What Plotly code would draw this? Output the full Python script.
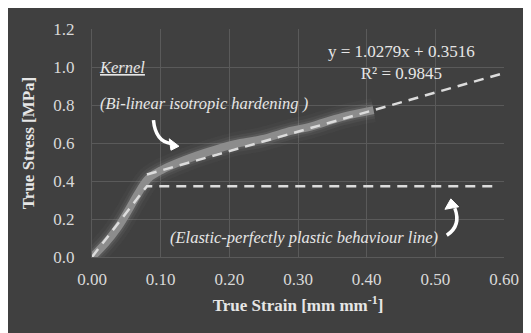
import plotly.graph_objects as go

# ---- data ----
strain = [0.0, 0.019, 0.038, 0.053, 0.067, 0.082, 0.101, 0.135, 0.169, 0.208,
          0.247, 0.291, 0.317, 0.365, 0.41]
stress = [0.0, 0.07, 0.158, 0.246, 0.334, 0.413, 0.457, 0.51, 0.553, 0.594,
          0.62, 0.665, 0.685, 0.738, 0.773]

epp_x = [0.0, 0.08, 0.59]
epp_y = [0.0, 0.373, 0.373]

trend_x = [0.08, 0.60]
trend_y = [0.434, 0.968]

x_ticks = [0.0, 0.1, 0.2, 0.3, 0.4, 0.5, 0.6]
y_ticks = [0.0, 0.2, 0.4, 0.6, 0.8, 1.0, 1.2]

BG = "#404040"
GRID = "#5a5a5a"
TXT = "#d9d9d9"
SERIF = "Liberation Serif, Times New Roman, serif"

fig = go.Figure()

# glow around the experimental curve
for w, c in [(24, "rgba(190,190,190,0.04)"), (17, "rgba(190,190,190,0.07)"),
             (12, "rgba(170,170,170,0.13)")]:
    fig.add_trace(go.Scatter(x=strain, y=stress, mode="lines",
                             line=dict(color=c, width=w, shape="spline"),
                             hoverinfo="skip", showlegend=False))
fig.add_trace(go.Scatter(x=strain, y=stress, mode="lines",
                         line=dict(color="#8c8c8c", width=8, shape="spline"),
                         showlegend=False))

fig.add_trace(go.Scatter(x=epp_x, y=epp_y, mode="lines",
                         line=dict(color="#dcdcdc", width=2.5, dash="10px,7px"),
                         showlegend=False))
fig.add_trace(go.Scatter(x=trend_x, y=trend_y, mode="lines",
                         line=dict(color="#dcdcdc", width=2.5, dash="10px,7px"),
                         showlegend=False))

ann_font = dict(family=SERIF, size=16.5, color="#e6e6e6")
eq_font = dict(family=SERIF, size=17, color="#e6e6e6")
annotations = [
    dict(x=0.0073, y=1.0, text="<i><u>Kernel</u></i>", xanchor="left",
         yanchor="middle", font=ann_font),
    dict(x=0.0087, y=0.81, text="<i>(Bi-linear isotropic hardening )</i>",
         xanchor="left", yanchor="middle", font=ann_font),
    dict(x=0.1106, y=0.104, text="<i>(Elastic-perfectly plastic behaviour line)</i>",
         xanchor="left", yanchor="middle", font=ann_font),
    dict(x=0.45, y=1.023, text="y = 1.0279x + 0.3516<br>R² = 0.9845",
         xanchor="center", yanchor="middle", font=eq_font),
]
for a in annotations:
    a.update(xref="x", yref="y", showarrow=False)

shapes = [
    # curved arrow 1
    dict(type="path", xref="x", yref="y",
         path="M 0.0895 0.720 Q 0.0925 0.607 0.115 0.597",
         line=dict(color="#ffffff", width=3.5)),
    dict(type="path", xref="x", yref="y",
         path="M 0.1266 0.583 L 0.1125 0.622 L 0.1150 0.562 Z",
         fillcolor="#ffffff", line=dict(color="#ffffff", width=1)),
    # curved arrow 2
    dict(type="path", xref="x", yref="y",
         path="M 0.5167 0.1143 Q 0.5380 0.165 0.5284 0.2566",
         line=dict(color="#ffffff", width=3.5)),
    dict(type="path", xref="x", yref="y",
         path="M 0.5226 0.306 L 0.5140 0.251 L 0.5340 0.264 Z",
         fillcolor="#ffffff", line=dict(color="#ffffff", width=1)),
]

fig.update_layout(
    width=531, height=333,
    margin=dict(l=84, r=35, t=21, b=84),
    paper_bgcolor=BG, plot_bgcolor=BG,
    font=dict(family=SERIF, color=TXT, size=17),
    annotations=annotations, shapes=shapes,
    xaxis=dict(range=[0, 0.6], tickvals=x_ticks, tickformat=".2f",
               showgrid=True, gridcolor=GRID, gridwidth=1, zeroline=False,
               showline=True, linecolor=GRID, linewidth=1, mirror=False,
               ticks="", ticklabelstandoff=7,
               tickfont=dict(family=SERIF, size=17, color=TXT),
               title=dict(text="<b>True Strain [mm mm<sup>-1</sup>]</b>",
                          font=dict(family=SERIF, size=17, color="#e6e6e6"),
                          standoff=10)),
    yaxis=dict(range=[0, 1.2], tickvals=y_ticks, tickformat=".1f",
               showgrid=True, gridcolor=GRID, gridwidth=1, zeroline=False,
               showline=True, linecolor=GRID, linewidth=1,
               ticks="", ticklabelstandoff=13,
               tickfont=dict(family=SERIF, size=17, color=TXT),
               title=dict(text="<b>True Stress [MPa]</b>",
                          font=dict(family=SERIF, size=17, color="#e6e6e6"),
                          standoff=14)),
)

fig.write_html("out.html")
